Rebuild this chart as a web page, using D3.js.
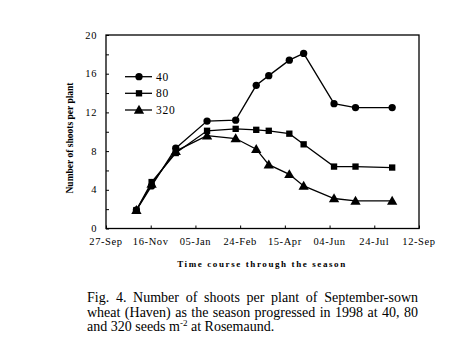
<!DOCTYPE html>
<html><head><meta charset="utf-8">
<script src="https://cdn.jsdelivr.net/npm/d3@7"></script>
<style>body{margin:0;background:#fff}svg{display:block}</style>
</head><body>
<svg id="c" width="467" height="362"></svg>
<script>
const dates = ["1997-10-31","1997-11-17","1997-12-14","1998-01-18","1998-02-19","1998-03-14","1998-03-28","1998-04-20","1998-05-06","1998-06-09","1998-07-03","1998-08-13"];
const s40  = [1.9, 4.4, 8.3, 11.1, 11.2, 14.8, 15.8, 17.4, 18.1, 12.9, 12.5, 12.5];
const s80  = [1.9, 4.8, 7.8, 10.1, 10.3, 10.2, 10.1, 9.8, 8.7, 6.4, 6.4, 6.3];
const s320 = [1.9, 4.6, 8.0, 9.6, 9.3, 8.2, 6.6, 5.6, 4.4, 3.1, 2.85, 2.85];
const seriesNames = ["40", "80", "320"];
const xTickDates = ["1997-09-27","1997-11-16","1998-01-05","1998-02-24","1998-04-15","1998-06-04","1998-07-24","1998-09-12"];
const yTicks = [0, 4, 8, 12, 16, 20];
const yMinor = [2, 6, 10, 14, 18];

const parse = d3.utcParse("%Y-%m-%d");
const svg = d3.select("#c");
const L = 106, R = 419, T = 35, B = 228.5;
const x = d3.scaleUtc().domain([parse("1997-09-27"), parse("1998-09-12")]).range([L, R]);
const y = d3.scaleLinear().domain([0, 20]).range([B, T]);
const serif = "'Liberation Serif','Times New Roman',Times,serif";

// frame
svg.append("rect").attr("x", L).attr("y", T).attr("width", R - L).attr("height", B - T)
  .attr("fill", "none").attr("stroke", "#000").attr("stroke-width", 1.3);

// y axis
const yAx = svg.append("g").attr("transform", `translate(${L},0)`)
  .call(d3.axisRight(y).tickValues(yTicks.concat(yMinor)).tickSize(3).tickFormat(""));
yAx.select(".domain").remove();
yAx.selectAll("line").attr("stroke", "#000");
svg.selectAll(".ylab").data(yTicks).join("text")
  .attr("x", 97).attr("y", d => y(d) + 3.5).attr("text-anchor", "end")
  .attr("font-family", serif).attr("font-size", 10.5).attr("letter-spacing", 0.6).text(d => d);

// x axis
const xt = xTickDates.map(parse);
const xAx = svg.append("g").attr("transform", `translate(0,${B})`)
  .call(d3.axisTop(x).tickValues(xt).tickSize(3).tickFormat(""));
xAx.select(".domain").remove();
xAx.selectAll("line").attr("stroke", "#000");
const fmt = d3.utcFormat("%d-%b");
svg.selectAll(".xlab").data(xt).join("text")
  .attr("x", d => x(d)).attr("y", 245).attr("text-anchor", "middle")
  .attr("font-family", serif).attr("font-size", 10.5).attr("letter-spacing", 0.6).text(d => fmt(d));

// axis titles
svg.append("text").attr("x", 262).attr("y", 267).attr("text-anchor", "middle")
  .attr("font-family", serif).attr("font-weight", "bold").attr("font-size", 9)
  .attr("letter-spacing", 1.6).text("Time course through the season");
svg.append("text").attr("transform", "translate(73,138) rotate(-90)").attr("text-anchor", "middle")
  .attr("font-family", serif).attr("font-weight", "bold").attr("font-size", 9.5)
  .text("Number of shoots per plant");

// series
const data = [s40, s80, s320].map((vals, i) => ({name: seriesNames[i], pts: vals.map((v, j) => ({d: parse(dates[j]), v}))}));
const line = d3.line().x(p => x(p.d)).y(p => y(p.v));
const sym = [d3.symbolCircle, d3.symbolSquare, d3.symbolTriangle];
const symSize = [42, 40, 46];
data.forEach((s, i) => {
  svg.append("path").attr("d", line(s.pts)).attr("fill", "none").attr("stroke", "#000").attr("stroke-width", 1.3);
  svg.selectAll(".m" + i).data(s.pts).join("path")
    .attr("transform", p => `translate(${x(p.d)},${y(p.v) + (i === 2 ? 0.8 : 0)})`)
    .attr("d", d3.symbol().type(sym[i]).size(symSize[i])).attr("fill", "#000");
});

// legend
const legY = [76.7, 93.3, 110];
data.forEach((s, i) => {
  svg.append("line").attr("x1", 125).attr("x2", 152).attr("y1", legY[i]).attr("y2", legY[i])
    .attr("stroke", "#000").attr("stroke-width", 1.3);
  svg.append("path").attr("transform", `translate(139,${legY[i] + (i === 2 ? 0.8 : 0)})`)
    .attr("d", d3.symbol().type(sym[i]).size(symSize[i])).attr("fill", "#000");
  svg.append("text").attr("x", 156).attr("y", legY[i] + 4).attr("font-family", serif)
    .attr("font-size", 11.5).attr("letter-spacing", 0.8).text(s.name);
});

// caption (justified lines via word-spacing)
const cap = svg.append("g").attr("font-family", serif).attr("font-size", 14).attr("fill", "#000");
const capLines = ["Fig. 4. Number of shoots per plant of September-sown",
                  "wheat (Haven) as the season progressed in 1998 at 40, 80"];
capLines.forEach((t, i) => {
  const el = cap.append("text").attr("x", 87).attr("y", 302 + i * 14.5).text(t);
  const w = el.node().getComputedTextLength();
  const n = t.split(" ").length - 1;
  el.attr("word-spacing", (331 - w) / n);
});
const t3 = cap.append("text").attr("x", 87).attr("y", 331);
t3.append("tspan").text("and 320 seeds m");
t3.append("tspan").attr("font-size", 9).attr("dy", -5).text("-2");
t3.append("tspan").attr("dy", 5).text(" at Rosemaund.");
</script>
</body></html>
